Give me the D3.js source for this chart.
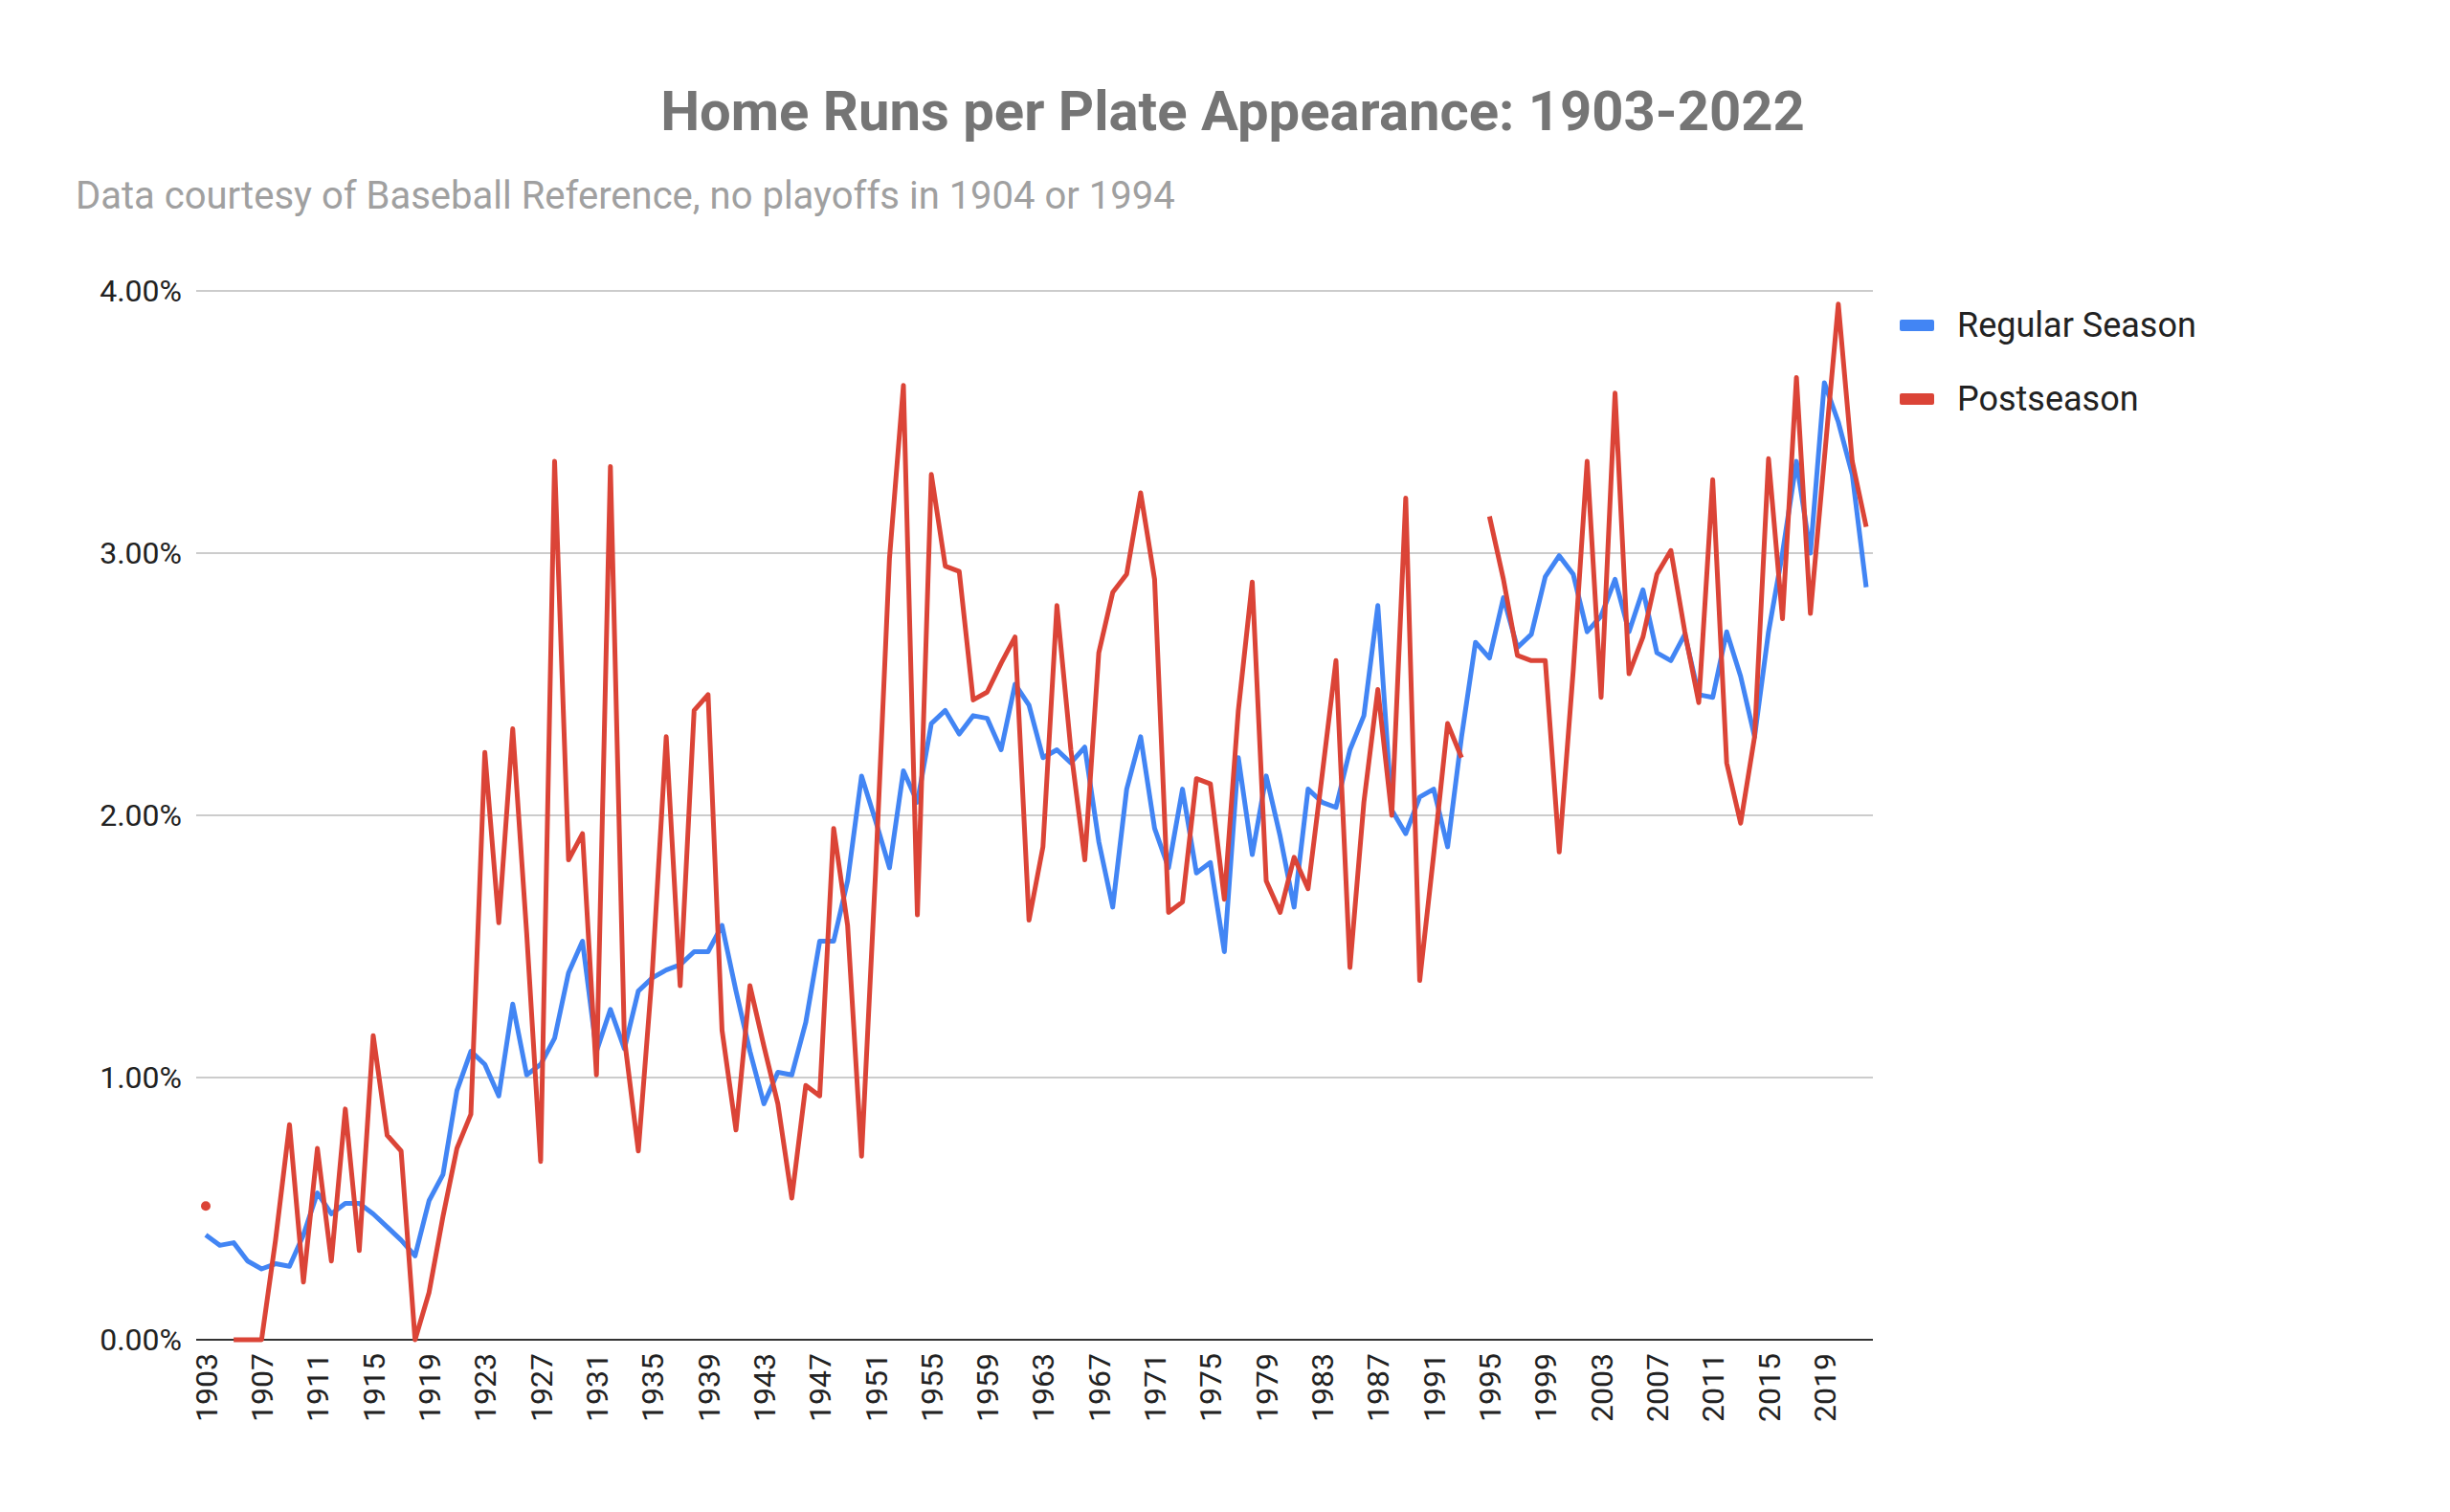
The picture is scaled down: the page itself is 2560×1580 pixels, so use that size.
<!DOCTYPE html>
<html><head><meta charset="utf-8">
<script src="https://cdn.jsdelivr.net/npm/d3@7"></script>
<style>body{margin:0;background:#fff}svg{display:block;font-family:Roboto,Arial,sans-serif}</style>
</head><body><svg id="c" width="2560" height="1580"></svg>
<script>
const startYear = 1903, endYear = 2022;
const regularSeason = [0.40,0.36,0.37,0.30,0.27,0.29,0.28,0.40,0.56,0.48,0.52,0.52,0.48,0.43,0.38,0.32,0.53,0.63,0.95,1.10,1.05,0.93,1.28,1.01,1.05,1.15,1.40,1.52,1.10,1.26,1.11,1.33,1.38,1.41,1.43,1.48,1.48,1.58,1.33,1.10,0.90,1.02,1.01,1.21,1.52,1.52,1.75,2.15,1.98,1.80,2.17,2.05,2.35,2.40,2.31,2.38,2.37,2.25,2.50,2.42,2.22,2.25,2.20,2.26,1.90,1.65,2.10,2.30,1.95,1.80,2.10,1.78,1.82,1.48,2.22,1.85,2.15,1.92,1.65,2.10,2.05,2.03,2.25,2.38,2.80,2.02,1.93,2.07,2.10,1.88,2.30,2.66,2.60,2.83,2.64,2.69,2.91,2.99,2.92,2.70,2.76,2.90,2.70,2.86,2.62,2.59,2.69,2.46,2.45,2.70,2.53,2.30,2.70,3.00,3.35,3.00,3.65,3.50,3.30,2.87];
const postseason = [0.51,null,0.0,0.0,0.0,0.38,0.82,0.22,0.73,0.30,0.88,0.34,1.16,0.78,0.72,0.0,0.18,0.47,0.73,0.86,2.24,1.59,2.33,1.55,0.68,3.35,1.83,1.93,1.01,3.33,1.15,0.72,1.40,2.30,1.35,2.40,2.46,1.18,0.80,1.35,1.12,0.90,0.54,0.97,0.93,1.95,1.58,0.70,1.78,2.98,3.64,1.62,3.30,2.95,2.93,2.44,2.47,2.58,2.68,1.60,1.88,2.80,2.25,1.83,2.62,2.85,2.92,3.23,2.90,1.63,1.67,2.14,2.12,1.68,2.40,2.89,1.75,1.63,1.84,1.72,2.15,2.59,1.42,2.05,2.48,2.00,3.21,1.37,1.85,2.35,2.22,null,3.14,2.90,2.61,2.59,2.59,1.86,2.55,3.35,2.45,3.61,2.54,2.68,2.92,3.01,2.70,2.43,3.28,2.20,1.97,2.30,3.36,2.75,3.67,2.77,3.36,3.95,3.35,3.10];
const years = d3.range(startYear, endYear + 1);
const yTicks = [0,1,2,3,4];
const xTicks = d3.range(1903, 2023, 4);
const seriesNames = ["Regular Season","Postseason"];
const colors = ["#4285f4","#db4437"];

const svg = d3.select("#c");
const x = d3.scaleLinear().domain([startYear,endYear]).range([215,1950]);
const y = d3.scaleLinear().domain([0,4]).range([1400,304]);

svg.append("text").attr("x",1288).attr("y",136).attr("text-anchor","middle")
  .attr("font-size",58).attr("font-weight","bold").attr("fill","#757575")
  .text("Home Runs per Plate Appearance: 1903-2022");
svg.append("text").attr("x",79).attr("y",218).attr("font-size",40).attr("fill","#a0a0a0")
  .text("Data courtesy of Baseball Reference, no playoffs in 1904 or 1994");

const g = svg.append("g");
g.selectAll(".grid").data(yTicks.filter(d=>d>0)).join("line")
  .attr("x1",205).attr("x2",1957).attr("y1",d=>y(d)).attr("y2",d=>y(d))
  .attr("stroke","#cccccc").attr("stroke-width",2);
g.selectAll(".yl").data(yTicks).join("text")
  .attr("x",190).attr("y",d=>y(d)+11).attr("text-anchor","end")
  .attr("font-size",32).attr("fill","#222").text(d=>d.toFixed(2)+"%");

const xa = svg.append("g").attr("transform","translate(0,1400)")
  .call(d3.axisBottom(x).tickValues(xTicks).tickFormat(d3.format("d")).tickSize(0).tickPadding(0));
xa.select(".domain").remove();
xa.selectAll("text").attr("font-size",32).attr("fill","#222").attr("font-family","Roboto,Arial,sans-serif")
  .attr("transform","rotate(-90)").attr("text-anchor","end").attr("x",-14).attr("y",0).attr("dy","0.35em");
svg.append("line").attr("x1",205).attr("x2",1957).attr("y1",1400).attr("y2",1400).attr("stroke","#333").attr("stroke-width",2);

[regularSeason, postseason].forEach((vals,i)=>{
  const data = years.map((yr,k)=>({yr, v: vals[k]}));
  const line = d3.line().defined(d=>d.v!=null).x(d=>x(d.yr)).y(d=>y(d.v));
  svg.append("path").datum(data).attr("d",line).attr("fill","none")
    .attr("stroke",colors[i]).attr("stroke-width",5).attr("stroke-linejoin","round");
  // isolated points
  data.forEach((d,k)=>{
    if(d.v!=null && (k===0||data[k-1].v==null) && (k===data.length-1||data[k+1].v==null)){
      svg.append("circle").attr("cx",x(d.yr)).attr("cy",y(d.v)).attr("r",5).attr("fill",colors[i]);
    }
  });
});

const lg = svg.append("g");
seriesNames.forEach((n,i)=>{
  lg.append("rect").attr("x",1985).attr("y",334+i*77).attr("width",36).attr("height",12).attr("rx",2).attr("fill",colors[i]);
  lg.append("text").attr("x",2045).attr("y",352+i*77).attr("font-size",36).attr("fill","#222").text(n);
});
</script></body></html>
